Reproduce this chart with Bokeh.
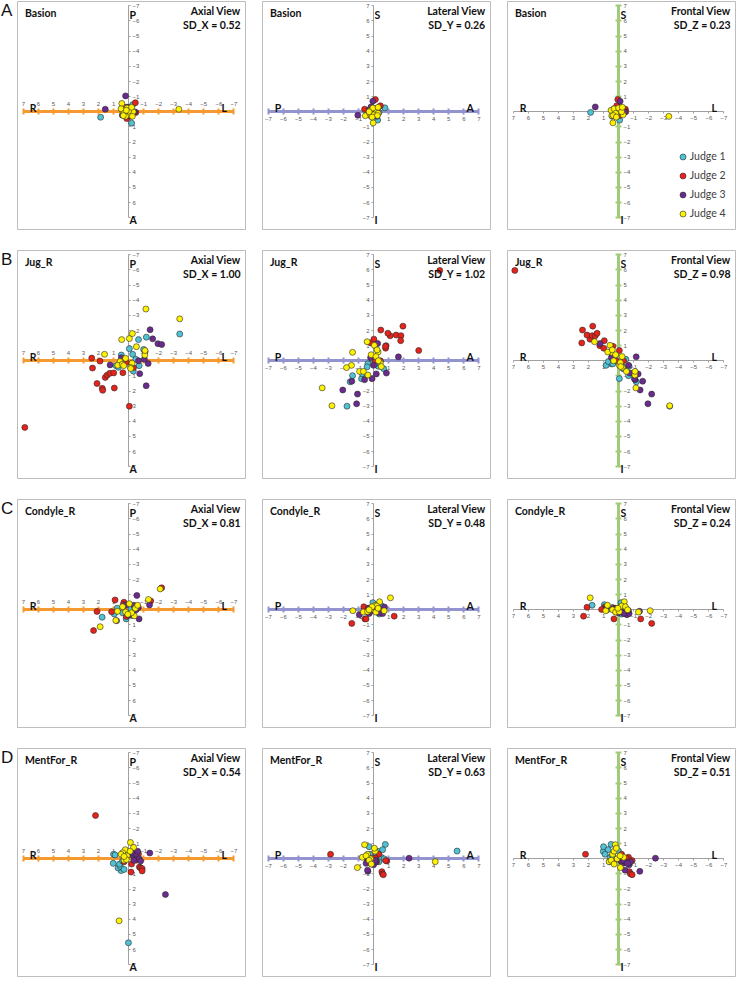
from bokeh.plotting import figure
from bokeh.models import (Range1d, LinearAxis, FixedTicker, Label, Legend, LegendItem,
                          Spacer, ColumnDataSource)
from bokeh.layouts import row, column
from bokeh.embed import file_html
from bokeh.resources import INLINE
from bokeh.core.properties import value

# ---------------- data ----------------
landmarks = ["Basion", "Jug_R", "Condyle_R", "MentFor_R"]
panel_letters = ["A", "B", "C", "D"]
judges = ["Judge 1", "Judge 2", "Judge 3", "Judge 4"]
judge_colors = ["#4FC3D5", "#E5231B", "#6A2A8E", "#FFF200"]
sd_x = [0.52, 1.00, 0.81, 0.54]
sd_y = [0.26, 1.02, 0.48, 0.63]
sd_z = [0.23, 0.98, 0.24, 0.51]
tick_values = [-7, -6, -5, -4, -3, -2, -1, 1, 2, 3, 4, 5, 6, 7]

# Basion  (x: R+/L-, y: A+/P-, z: S+/I-)
basion_j1_x = [1.86, -0.20, -0.07, -0.27, 0.20, -0.10, 0.10, 0.25]
basion_j1_y = [0.36, 0.75, 0.27, -0.47, 0.10, -0.10, 0.20, -0.15]
basion_j1_z = [-0.04, 0.26, -0.55, 0.10, 0.00, 0.15, -0.20, 0.05]
basion_j2_x = [0.05, -0.45, 0.12, -0.48, 0.30, -0.20, 0.15, -0.05]
basion_j2_y = [0.12, -0.60, 0.45, 0.05, -0.10, 0.25, -0.30, 0.10]
basion_j2_z = [0.81, 0.17, 0.40, 0.00, 0.20, -0.10, 0.05, -0.25]
basion_j3_x = [0.20, 1.55, -0.10, 0.42, 0.05, -0.40, -0.15, 0.30]
basion_j3_y = [-1.05, -0.17, -0.05, 0.22, -0.30, 0.00, 0.30, 0.05]
basion_j3_z = [-0.23, 0.32, 0.70, -0.30, 0.10, 0.00, 0.25, 0.15]
basion_j4_x = [-3.34, 0.38, 0.45, 0.50, 0.30, 0.10, -0.10, -0.30, 0.20, 0.00, -0.20, 0.35, 0.15, -0.25]
basion_j4_y = [-0.17, -0.03, -0.55, -0.20, 0.10, -0.25, 0.20, 0.00, 0.30, -0.05, -0.30, 0.25, -0.10, 0.30]
basion_j4_z = [-0.30, -0.73, -0.26, 0.10, 0.20, -0.10, 0.05, -0.20, -0.10, 0.25, 0.00, -0.25, -0.35, 0.30]

# Jug_R
jug_j1_x = [-3.40, -1.18, -0.66, -0.05, -1.00, 0.48, -0.27, 0.83, 0.68, -0.31, -0.70, -0.48, 0.38]
jug_j1_y = [-1.77, -1.56, -1.40, -0.80, -0.75, -0.38, -0.43, 0.32, 0.43, 0.68, 0.32, -0.10, 0.10]
jug_j1_z = [-3.00, -1.39, -0.98, -1.18, -0.85, -0.20, -0.40, -0.30, -0.05, -0.53, -0.36, 0.10, -0.20]
jug_j2_x = [6.90, 2.45, 1.90, 2.40, 2.10, 1.75, 1.72, 1.55, 1.43, 1.25, 0.95, 0.99, 0.38, -0.05, -0.33, 0.15]
jug_j2_y = [4.40, -0.18, 0.02, 0.48, 1.50, 1.82, 1.95, 1.10, 0.95, 0.83, 1.80, 0.80, 0.79, 3.00, 0.45, 0.12]
jug_j2_z = [5.97, 1.18, 1.43, 2.03, 1.70, 1.66, 2.29, 1.65, 1.82, 1.00, 1.33, 0.83, 0.96, 0.68, 0.00, 0.00]
jug_j3_x = [-1.43, -1.60, -1.95, -2.20, -1.10, -1.17, -0.74, -1.30, 1.23, -1.05, -0.66, 0.48]
jug_j3_y = [-2.05, -1.45, -1.13, -1.07, -0.60, 1.65, 0.85, 0.18, 0.27, -0.10, 0.00, -0.20]
jug_j3_z = [-1.93, -1.35, -2.84, -2.20, -1.25, 0.26, -0.81, -0.87, 1.14, -1.18, -0.30, 0.21]
jug_j4_x = [-1.15, -3.40, 0.46, -0.05, -0.25, 1.60, -0.52, 0.57, 0.72, 0.42, 0.20, -0.23, -0.12, -1.08, -1.09, 0.33, -0.14]
jug_j4_y = [-3.42, -2.77, -1.40, -1.47, -1.80, -0.43, -0.93, 0.05, 0.30, 0.23, -0.16, 0.16, 0.44, -0.38, -0.68, 0.32, 0.51]
jug_j4_z = [-1.79, -2.97, 0.56, -0.30, -0.45, 1.26, -0.70, 1.02, 0.58, 0.72, 0.40, 0.28, -0.12, -0.94, -0.70, 0.00, -0.38]

# Condyle_R
cond_j1_x = [1.76, 0.95, -0.16, 0.76, 0.16, -0.20, 0.40, -0.40]
cond_j1_y = [0.49, 0.28, -0.05, -0.11, 0.60, 0.38, 0.20, -0.20]
cond_j1_z = [0.30, 0.34, 0.47, 0.00, -0.10, -0.28, 0.15, -0.10]
cond_j2_x = [-2.20, -1.47, 0.90, 1.13, 2.10, 2.33, 0.31, 0.35, -0.20, 0.15]
cond_j2_y = [-1.45, -0.58, -0.65, 0.13, 0.11, 1.37, -0.50, -0.35, 0.30, 0.45]
cond_j2_z = [-0.90, -0.60, 0.20, 0.02, 0.17, -0.42, -0.60, 0.10, 0.05, -0.15]
cond_j3_x = [-1.39, -0.55, 0.80, -0.70, 0.20, -0.30, -0.50, 0.00, -0.35, -0.65]
cond_j3_y = [-0.32, -0.95, 0.72, 0.60, -0.30, 0.20, 0.00, 0.35, -0.30, -0.15]
cond_j3_z = [-0.10, -0.32, 0.18, -0.25, 0.10, -0.05, 0.05, -0.20, -0.25, -0.05]
cond_j4_x = [-2.10, -1.32, 1.89, 0.85, 0.74, -0.38, 0.40, 0.20, -0.05, -0.20, -0.45, 0.05, -0.60]
cond_j4_y = [-1.38, -0.68, 1.12, 0.70, 0.10, 0.40, -0.20, 0.15, -0.40, 0.20, -0.10, 0.30, -0.30]
cond_j4_z = [-0.06, -0.15, 0.79, -0.06, 0.30, 0.53, 0.00, -0.15, -0.12, 0.25, 0.20, 0.10, 0.00]

# MentFor_R
ment_j1_x = [0.01, 1.02, 1.00, 0.50, 0.70, 0.55, 0.90, 0.30, 0.60, 0.40]
ment_j1_y = [5.55, 0.30, -0.30, 0.78, 0.60, 0.50, -0.25, 0.70, 0.35, 0.15]
ment_j1_z = [0.51, 0.49, 0.80, 0.95, 0.60, 0.10, 0.30, 0.00, -0.20, 0.20]
ment_j2_x = [2.20, -0.66, -0.72, -0.80, -0.90, -0.16, -0.90, -0.20, 0.30, -0.50]
ment_j2_y = [-2.86, -0.32, 0.55, 0.60, 0.65, 0.88, 0.80, 0.35, 0.20, 0.10]
ment_j2_z = [0.30, 0.10, -0.85, -1.00, -1.05, -0.15, -0.12, 0.30, -0.20, 0.05]
ment_j3_x = [-2.45, -1.41, -0.43, -0.30, -0.50, -0.70, -0.20, -0.80, -0.35, -0.60]
ment_j3_y = [2.36, -0.38, -0.40, -0.20, -0.30, 0.00, -0.40, 0.15, 0.10, -0.50]
ment_j3_z = [0.04, -0.83, -0.75, -0.30, -0.25, -0.40, -0.15, -0.20, -0.10, -0.30]
ment_j4_x = [0.63, -0.12, 0.22, -0.33, 0.40, 0.10, 0.30, -0.10, 0.50, 0.15, 0.30]
ment_j4_y = [4.10, -1.08, -0.60, -0.75, -0.40, -0.20, 0.10, -0.50, -0.30, 0.05, -0.15]
ment_j4_z = [-0.19, -0.58, 0.93, 0.10, 0.30, 0.00, 0.50, 0.20, -0.10, 0.70, -0.35]

landmark_data = [
    [(basion_j1_x, basion_j1_y, basion_j1_z), (basion_j2_x, basion_j2_y, basion_j2_z),
     (basion_j3_x, basion_j3_y, basion_j3_z), (basion_j4_x, basion_j4_y, basion_j4_z)],
    [(jug_j1_x, jug_j1_y, jug_j1_z), (jug_j2_x, jug_j2_y, jug_j2_z),
     (jug_j3_x, jug_j3_y, jug_j3_z), (jug_j4_x, jug_j4_y, jug_j4_z)],
    [(cond_j1_x, cond_j1_y, cond_j1_z), (cond_j2_x, cond_j2_y, cond_j2_z),
     (cond_j3_x, cond_j3_y, cond_j3_z), (cond_j4_x, cond_j4_y, cond_j4_z)],
    [(ment_j1_x, ment_j1_y, ment_j1_z), (ment_j2_x, ment_j2_y, ment_j2_z),
     (ment_j3_x, ment_j3_y, ment_j3_z), (ment_j4_x, ment_j4_y, ment_j4_z)],
]

# ---------------- style / layout ----------------
PW, PH = 230, 230          # panel canvas
FR = 228                   # frame size (min_border 1)
LETTER_W = 16
COL_GAP, ROW_GAP = 15, 19
H_A, H_B = 0.0255, 0.949   # -7..7 position as fraction of frame width
V_A, V_B = 0.019, 0.9485   # top / bottom ends as fraction of frame height
AX_GRAY = "#A0A0A0"
ORANGE = "#F59A30"
LAVENDER = "#9393CF"
GREEN = "#A2CA7C"
TICK_COL = "#595959"
FONT = "Lato"

VIEWS = [
    dict(title="Axial View", sd_label="SD_X", sd=sd_x, h=0, v=1, h_rev=True, v_rev=True,
         h_side="above", v_side="right", h_col=ORANGE, h_thick=True, v_col=AX_GRAY, v_thick=False,
         left="R", right="L", top="P", bottom="A"),
    dict(title="Lateral View", sd_label="SD_Y", sd=sd_y, h=1, v=2, h_rev=False, v_rev=False,
         h_side="below", v_side="left", h_col=LAVENDER, h_thick=True, v_col=AX_GRAY, v_thick=False,
         left="P", right="A", top="S", bottom="I"),
    dict(title="Frontal View", sd_label="SD_Z", sd=sd_z, h=0, v=2, h_rev=True, v_rev=False,
         h_side="below", v_side="right", h_col=AX_GRAY, h_thick=False, v_col=GREEN, v_thick=True,
         left="R", right="L", top="S", bottom="I"),
]


def h_range(rev):
    span = 14 / (H_B - H_A)
    if rev:
        s = 7 + H_A * span
        return Range1d(start=s, end=s - span)
    s = -7 - H_A * span
    return Range1d(start=s, end=s + span)


def v_range(rev):
    span = 14 / (V_B - V_A)
    if rev:  # -7 at the top
        e = -7 - V_A * span
        return Range1d(start=e + span, end=e)
    e = 7 + V_A * span
    return Range1d(start=e - span, end=e)


def add_axis(p, side, color, thick):
    ax = LinearAxis(fixed_location=0, bounds=(-7, 7),
                    ticker=FixedTicker(ticks=tick_values, minor_ticks=[]))
    ax.level = "underlay"
    ax.axis_line_color = color
    ax.axis_line_width = 3 if thick else 1
    ax.major_tick_line_color = color
    ax.major_tick_line_width = 2 if thick else 1
    ax.major_tick_in = 3 if thick else 0
    ax.major_tick_out = 3 if thick else 2
    ax.minor_tick_line_color = None
    ax.major_label_text_font_size = "6px"
    ax.major_label_text_color = TICK_COL
    ax.major_label_text_font = "Liberation Sans"
    ax.major_label_standoff = 3 if side == "above" else 2
    p.add_layout(ax, side)


def title_label(x, y, text, align):
    return Label(x=x, y=y, x_units="screen", y_units="screen", text=text,
                 text_font=FONT, text_font_style="bold", text_font_size="10.5px",
                 text_align=align, text_baseline="middle", text_color="#111111")


def make_panel(li, vi):
    cfg = VIEWS[vi]
    p = figure(width=PW, height=PH, x_range=h_range(cfg["h_rev"]), y_range=v_range(cfg["v_rev"]),
               x_axis_type=None, y_axis_type=None, output_backend="svg",
               toolbar_location=None, min_border=1)
    p.outline_line_color = "#BDBDBD"
    p.outline_line_width = 1
    p.background_fill_color = "white"
    p.border_fill_color = "white"

    add_axis(p, cfg["h_side"], cfg["h_col"], cfg["h_thick"])
    add_axis(p, cfg["v_side"], cfg["v_col"], cfg["v_thick"])

    renderers = []
    for j, pts in enumerate(landmark_data[li]):
        src = ColumnDataSource(dict(h=pts[cfg["h"]], v=pts[cfg["v"]]))
        r = p.scatter("h", "v", source=src, size=6, fill_color=judge_colors[j],
                      line_color="#2A2A2A", line_width=0.6)
        renderers.append(r)

    # direction labels (anatomical orientation)
    hs = 1 if cfg["h_rev"] else -1     # sign of the left side
    vs = -1 if cfg["v_rev"] else 1     # sign of the top
    vx_off = 2 if cfg["v_thick"] else 1
    p.text(x=[hs * 6.57, -hs * 6.18], y=[0, 0], text=[cfg["left"], cfg["right"]],
           text_align="left", text_baseline="middle", y_offset=-4,
           text_font=value(FONT), text_font_style="bold", text_font_size="10.5px",
           text_color="#111111")
    p.text(x=[0, 0], y=[vs * 6.4, -vs * 7.12], text=[cfg["top"], cfg["bottom"]],
           text_align="left", text_baseline="middle", x_offset=vx_off,
           text_font=value(FONT), text_font_style="bold", text_font_size="10.5px",
           text_color="#111111")

    # titles
    p.add_layout(title_label(7.5, FR - 11.7, landmarks[li], "left"))
    p.add_layout(title_label(FR - 4.9, FR - 9.8, cfg["title"], "right"))
    p.add_layout(title_label(FR - 4.9, FR - 23.4,
                             "%s = %.2f" % (cfg["sd_label"], cfg["sd"][li]), "right"))

    if li == 0 and vi == 2:
        legend = Legend(items=[LegendItem(label=judges[j], renderers=[renderers[j]]) for j in range(4)],
                        location=(167.8, 8.3), orientation="vertical",
                        glyph_width=15, glyph_height=15, label_height=15, spacing=4,
                        padding=0, margin=0, label_standoff=0,
                        label_text_font=FONT, label_text_font_size="10.5px",
                        label_text_color="#404040", border_line_color=None,
                        background_fill_alpha=0)
        p.add_layout(legend, "center")
    return p


def make_letter(ch):
    f = figure(width=LETTER_W, height=PH, x_range=Range1d(0, LETTER_W), y_range=Range1d(0, PH),
               x_axis_type=None, y_axis_type=None, output_backend="svg",
               toolbar_location=None, min_border=0)
    f.outline_line_color = None
    f.text(x=[0.5], y=[PH - 8.6], text=[ch], text_align="left", text_baseline="middle",
           text_font=value("Liberation Sans"), text_font_size="17px", text_color="#111111")
    return f


rows = []
for li in range(4):
    if li > 0:
        rows.append(Spacer(width=10, height=ROW_GAP))
    rows.append(row(make_letter(panel_letters[li]), make_panel(li, 0), Spacer(width=COL_GAP),
                    make_panel(li, 1), Spacer(width=COL_GAP), make_panel(li, 2), spacing=0))

layout = column(*rows, spacing=0)
open("out.html", "w").write(file_html(layout, INLINE))
